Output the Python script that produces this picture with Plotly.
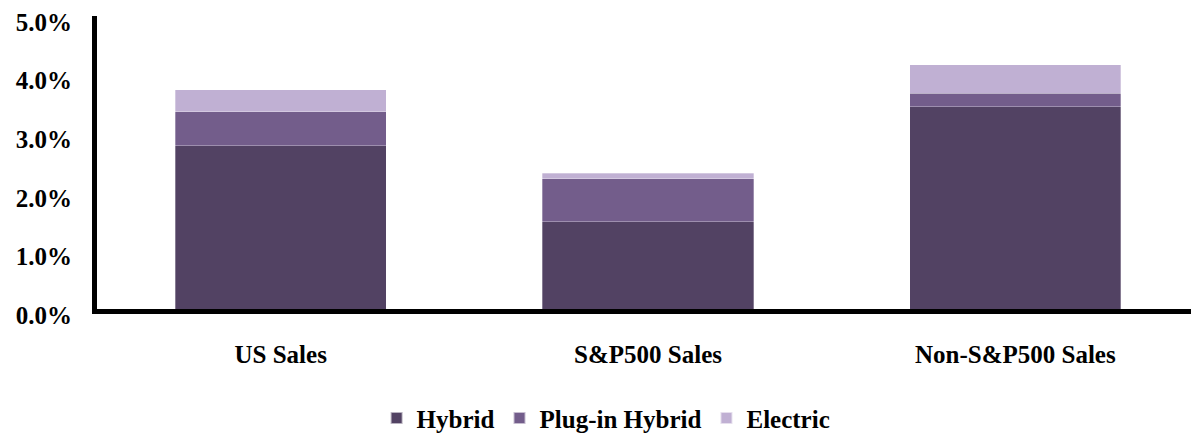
import plotly.graph_objects as go

categories = ["US Sales", "S&P500 Sales", "Non-S&P500 Sales"]
hybrid = [2.79, 1.49, 3.45]
plugin_hybrid = [0.58, 0.73, 0.23]
electric = [0.37, 0.10, 0.49]

series = [
    ("Hybrid", hybrid, "#524263"),
    ("Plug-in Hybrid", plugin_hybrid, "#735d8b"),
    ("Electric", electric, "#c0b0d3"),
]

font = dict(family="'Liberation Serif', 'Times New Roman', serif",
            size=25, color="black", weight="bold")

fig = go.Figure()
for name, vals, color in series:
    fig.add_trace(go.Bar(x=categories, y=vals, name=name,
                         marker=dict(color=color, line=dict(color="rgba(255,255,255,0.6)", width=0.5))))

fig.update_layout(
    barmode="stack",
    bargap=0.425,
    width=1199, height=435,
    margin=dict(l=89, r=8, t=8, b=134),
    plot_bgcolor="white", paper_bgcolor="white",
    font=font,
    legend=dict(orientation="h", x=0.462, xanchor="center", yref="container", y=0.057, yanchor="middle",
                font=dict(size=25), itemsizing="constant", traceorder="normal", itemwidth=30),
)
fig.update_yaxes(range=[0, 5], dtick=1, ticksuffix="%", tickformat=".1f", automargin=False,
                 showgrid=False, zeroline=False, showline=True, linecolor="black", linewidth=5,
                 ticks="", ticklabelstandoff=15, ticklabelshift=6, ticklabeloverflow="allow")
fig.update_xaxes(showgrid=False, showline=True, linecolor="black", linewidth=5, automargin=False,
                 ticks="", ticklabelstandoff=19, range=[-0.5, 2.5], ticklabeloverflow="allow")

fig.write_html("out.html")
